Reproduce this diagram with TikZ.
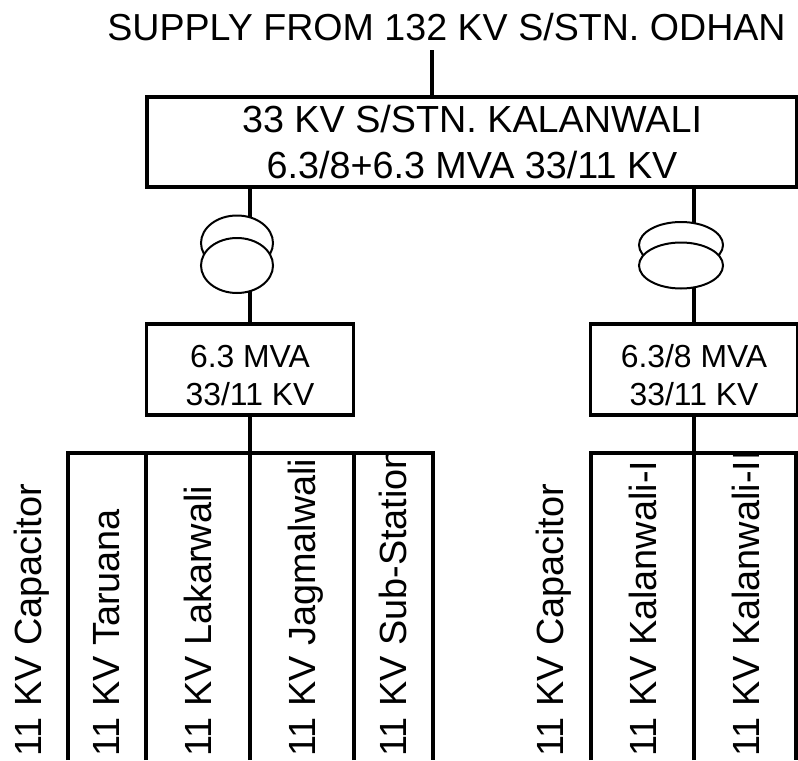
\documentclass[tikz,border=0pt]{standalone}
\usepackage{fontspec}
\setmainfont{Liberation Sans}
\usetikzlibrary{positioning,shapes.geometric,calc}

\begin{document}
\begin{tikzpicture}[x=0.75pt, y=-0.75pt,
  bigbox/.style={draw, line width=2.5pt, inner sep=0pt, outer sep=0pt, align=center,
    minimum width=487.5pt, minimum height=67.5pt,
    font=\fontsize{28.3pt}{35pt}\selectfont},
  xfbox/.style={draw, line width=2.5pt, inner sep=0pt, outer sep=0pt, align=center,
    minimum width=155pt, minimum height=68.25pt, text height=53.5pt,
    font=\fontsize{23.9pt}{28.5pt}\selectfont},
  coil/.style={draw, ellipse, fill=white, line width=1.5pt, inner sep=0pt, outer sep=0pt},
  feeder/.style={rotate=90, anchor=base west, inner sep=0pt,
    font=\fontsize{28.4pt}{33pt}\selectfont},
  wire/.style={line width=2.5pt}
]
\useasboundingbox (0,0) rectangle (798,760);

\coordinate (cl) at (237,243);
\coordinate (cl2) at (237,265.5);
\coordinate (cr) at (681,245);
\coordinate (cr2) at (681,265.5);
\coordinate (tapl) at (250,187);
\coordinate (tapr) at (694,187);
\coordinate (top) at (432,50);

\node[bigbox] (main) at (472,142) {33 KV S/STN. KALANWALI\\6.3/8+6.3 MVA 33/11 KV};
\node[xfbox] (boxl) at (250,369.5) {6.3 MVA\\33/11 KV};
\node[xfbox] (boxr) at (694,369.5) {6.3/8 MVA\\33/11 KV};
\node[font=\fontsize{28.2pt}{33pt}\selectfont, anchor=base] (supply) at (446.5,40) {SUPPLY FROM 132 KV S/STN. ODHAN};

\draw[wire] (top) -- (top |- main.north);
\draw[wire] (tapl) -- (tapl |- boxl.north);
\draw[wire] (tapr) -- (tapr |- boxr.north);

\node[coil, minimum width=54pt, minimum height=41.25pt] (xfl1) at (cl) {};
\node[coil, minimum width=54pt, minimum height=41.25pt] (xfl2) at (cl2) {};
\node[coil, minimum width=63pt, minimum height=34.5pt] (xfr1) at (cr) {};
\node[coil, minimum width=63pt, minimum height=34.5pt] (xfr2) at (cr2) {};

\coordinate (busl) at (250,453);
\coordinate (busr) at (694,453);
\coordinate (f1) at (68,760);
\coordinate (f2) at (146,760);
\coordinate (f3) at (250,760);
\coordinate (f4) at (354,760);
\coordinate (f5) at (433,760);
\coordinate (g1) at (591,760);
\coordinate (g2) at (694,760);
\coordinate (g3) at (796,760);

\begin{scope}
\clip (0,455) rectangle (798,760);
\node[feeder] (capl) at (41,757) {11 KV Capacitor};
\node[feeder] (tar) at (119,757) {11 KV Taruana};
\node[feeder] (lak) at (211,757) {11 KV Lakarwali};
\node[feeder] (jag) at (315,757) {11 KV Jagmalwali};
\node[feeder] (sub) at (406,757) {11 KV Sub-Station};
\node[feeder] (capr) at (563,757) {11 KV Capacitor};
\node[feeder] (kal) at (656,757) {11 KV Kalanwali-I};
\node[feeder] (kalb) at (759,757) {11 KV Kalanwali-II};
\end{scope}

\draw[wire] (boxl.south -| busl) -- (busl);
\draw[wire] (boxr.south -| busr) -- (busr);
\draw[wire] (f1) -- (f1 |- busl) -- (f5 |- busl) -- (f5);
\draw[wire] (f2) -- (f2 |- busl);
\draw[wire] (f3) -- (busl);
\draw[wire] (f4) -- (f4 |- busl);
\draw[wire] (g1) -- (g1 |- busr) -- (g3 |- busr) -- (g3);
\draw[wire] (g2) -- (busr);
\end{tikzpicture}
\end{document}
